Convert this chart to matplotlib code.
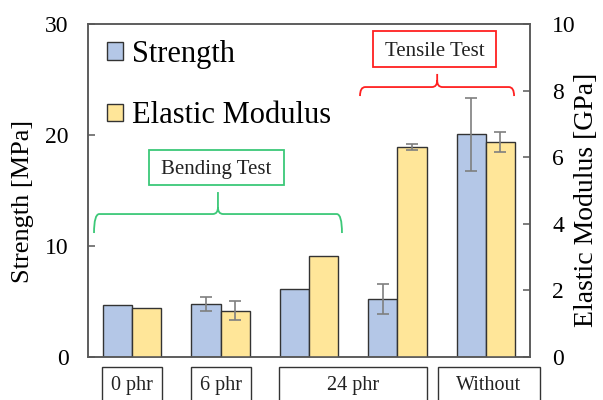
import matplotlib
matplotlib.use("Agg")
import matplotlib.pyplot as plt
import numpy as np
from matplotlib.patches import Rectangle, Patch
from matplotlib.path import Path
from matplotlib.patches import PathPatch
import matplotlib.transforms as mtransforms

plt.rcParams['font.family'] = ['Liberation Serif', 'DejaVu Serif']

# donnees
groupes = ['0 phr', '6 phr', '24 phr', '24 phr', 'Without']
resistance = [4.7, 4.75, 6.1, 5.2, 20.05]          # MPa
resistance_err = [0, 0.65, 0, 1.35, 3.25]
module = [1.46, 1.39, 3.04, 6.31, 6.47]           # GPa
module_err = [0, 0.28, 0, 0.1, 0.3]

# boites de categories (debut, fin en indice de groupe)
cat_labels = ['0 phr', '6 phr', '24 phr', 'Without']
cat_span = [(0, 0), (1, 1), (2, 3), (4, 4)]

bleu = '#B4C7E7'
jaune = '#FFE699'
gris = '#595959'

fig = plt.figure(figsize=(6.03, 4.0), dpi=100)
ax = fig.add_axes([88/603, 43/400, 442/603, 333/400])
ax2 = ax.twinx()

x = np.arange(len(resistance))
w = 0.33

ax.bar(x - w/2, resistance, w, color=bleu, edgecolor='#333333', linewidth=1.0, zorder=2)
ax2.bar(x + w/2, module, w, color=jaune, edgecolor='#333333', linewidth=1.0, zorder=2)

for i in range(len(x)):
    if resistance_err[i] > 0:
        ax.errorbar(x[i] - w/2, resistance[i], yerr=resistance_err[i], fmt='none',
                    ecolor='#7f7f7f', elinewidth=1.2, capsize=4, capthick=1.2, zorder=3)
    if module_err[i] > 0:
        ax2.errorbar(x[i] + w/2, module[i], yerr=module_err[i], fmt='none',
                     ecolor='#7f7f7f', elinewidth=1.2, capsize=4, capthick=1.2, zorder=3)

ax.set_xlim(-0.5, 4.5)
ax.set_ylim(0, 30)
ax2.set_ylim(0, 10)
ax.set_yticks([0, 10, 20, 30])
ax2.set_yticks([0, 2, 4, 6, 8, 10])
ax.set_xticks([])

for a in (ax, ax2):
    for s in a.spines.values():
        s.set_color(gris)
        s.set_linewidth(1.1)
ax.tick_params(axis='y', direction='in', length=5, width=1.1, color=gris,
               labelsize=17, pad=14)
ax2.tick_params(axis='y', direction='in', length=5, width=1.1, color=gris,
                labelsize=17, pad=16)

ax.set_ylabel('Strength [MPa]', fontsize=19)
ax.yaxis.set_label_coords(-0.122, 0.468)
ax2.set_ylabel('Elastic Modulus [GPa]', fontsize=20)
ax2.yaxis.set_label_coords(1.099, 0.471)

# legende
handles = [Patch(facecolor=bleu, edgecolor='#333333', linewidth=1.0, label='Strength'),
           Patch(facecolor=jaune, edgecolor='#333333', linewidth=1.0, label='Elastic Modulus')]
ax.legend(handles=handles, loc='upper left', bbox_to_anchor=(0.043, 0.952),
          fontsize=22, frameon=False, handlelength=0.52, handleheight=0.52,
          handletextpad=0.3, labelspacing=1.06, borderpad=0, borderaxespad=0)

# boites de categories sous l'axe
trans = mtransforms.blended_transform_factory(ax.transData, ax.transAxes)
for lab, (i0, i1) in zip(cat_labels, cat_span):
    x0 = i0 - 0.34
    x1 = i1 + 0.34
    if lab == 'Without':
        x0 = i0 - 0.54
        x1 = i1 + 0.61
    r = Rectangle((x0, -0.2), x1 - x0, 0.17, transform=trans, fill=False,
                  edgecolor='#333333', linewidth=1.0, clip_on=False)
    ax.add_patch(r)
    ax.text((x0 + x1) / 2, -0.087, lab, transform=trans, ha='center', va='center',
            fontsize=14.5, color='#222222')


def accolade(a, x0, x1, xc, y, bas, haut, couleur):
    rx = 0.06
    verts = [(x0, bas), (x0, y), (x0 + rx, y), (xc - rx, y), (xc, y), (xc, y + 0.6),
             (xc, haut),
             (xc, y + 0.6), (xc, y), (xc + rx, y), (x1 - rx, y), (x1, y), (x1, bas)]
    codes = [Path.MOVETO, Path.CURVE3, Path.CURVE3, Path.LINETO, Path.CURVE3, Path.CURVE3,
             Path.LINETO,
             Path.MOVETO, Path.CURVE3, Path.CURVE3, Path.LINETO, Path.CURVE3, Path.CURVE3]
    a.add_patch(PathPatch(Path(verts, codes), fill=False, edgecolor=couleur,
                          linewidth=1.3, zorder=4))


vert = '#3CC878'
rouge = '#FF2020'

accolade(ax, -0.432, 2.373, 0.97, 12.88, 11.17, 14.86, vert)
ax.add_patch(Rectangle((0.19, 15.5), 1.527, 3.15, fill=False, edgecolor=vert,
                       linewidth=1.3, zorder=4))
ax.text(0.953, 16.9, 'Bending Test', ha='center', va='center', fontsize=15, color='#222222')

accolade(ax, 2.577, 4.32, 3.45, 24.32, 23.51, 25.5, rouge)
ax.add_patch(Rectangle((2.724, 26.13), 1.391, 3.24, fill=False, edgecolor=rouge,
                       linewidth=1.3, zorder=4))
ax.text(3.42, 27.55, 'Tensile Test', ha='center', va='center', fontsize=15, color='#222222')

fig.savefig('out.png', dpi=100)
